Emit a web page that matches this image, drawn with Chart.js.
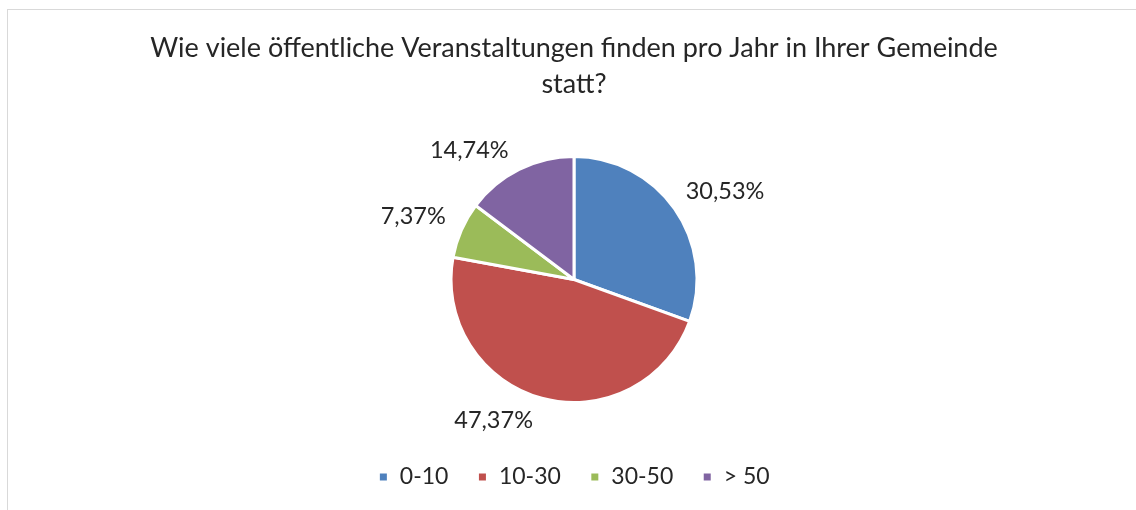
<!DOCTYPE html>
<html>
<head>
<meta charset="utf-8">
<script src="https://cdn.jsdelivr.net/npm/chart.js@4.4.1/dist/chart.umd.min.js"></script>
<style>
  html, body { margin: 0; padding: 0; background: #fff; overflow: hidden; }
  #frame {
    position: absolute; left: 7px; top: 9px;
    border-left: 1px solid #d9d9d9; border-top: 1px solid #d9d9d9;
    width: 1132px; height: 500px;
  }
  #chart { display: block; }
</style>
</head>
<body>
<div id="frame"><canvas id="chart" width="1132" height="500"></canvas></div>
<script>
// values
const categories = ['0-10', '10-30', '30-50', '> 50'];
const shares = [30.53, 47.37, 7.37, 14.74];
const sliceColors = ['#4f81bd', '#c0504d', '#9bbb59', '#8064a2'];
const titleLines = ['Wie viele öffentliche Veranstaltungen finden pro Jahr in Ihrer Gemeinde', 'statt?'];

const FONT = 'Lato';
const TEXT = '#262626';

// percentage labels outside each slice, like Excel's best fit
const outsideLabels = {
    id: 'outsideLabels',
    afterDatasetsDraw(chart, args, opts) {
        const ctx = chart.ctx;
        const meta = chart.getDatasetMeta(0);
        ctx.save();
        ctx.font = opts.size + 'px ' + FONT;
        ctx.fillStyle = TEXT;
        ctx.textAlign = 'center';
        ctx.textBaseline = 'middle';
        meta.data.forEach((arc, i) => {
            const p = arc.getProps(['x', 'y', 'startAngle', 'endAngle', 'outerRadius'], true);
            const mid = (p.startAngle + p.endAngle) / 2 + (opts.nudge[i] || 0) * Math.PI / 180;
            const text = shares[i].toFixed(2).replace('.', ',') + '%';
            const w = ctx.measureText(text).width;
            const h = opts.size * 1.2;
            const r = p.outerRadius + opts.gap;
            const cx = p.x + Math.cos(mid) * (r + w / 2);
            const cy = p.y + Math.sin(mid) * (r + h / 2);
            ctx.fillText(text, cx, cy);
        });
        ctx.restore();
    }
};

new Chart(document.getElementById('chart'), {
    type: 'pie',
    data: {
        labels: categories,
        datasets: [{
            data: shares,
            backgroundColor: sliceColors,
            borderColor: '#ffffff',
            borderWidth: 3,
            hoverOffset: 0,
            radius: 123
        }]
    },
    options: {
        responsive: false,
        animation: false,
        layout: { padding: { top: 0, bottom: 11.5, left: 0, right: 0 } },
        plugins: {
            title: {
                display: true,
                text: titleLines,
                color: TEXT,
                font: { family: FONT, size: 27, weight: 'normal', lineHeight: 1.333 },
                padding: { top: 20, bottom: 20.5 }
            },
            legend: {
                position: 'bottom',
                labels: {
                    color: TEXT,
                    font: { family: FONT, size: 23 },
                    boxWidth: 10,
                    boxHeight: 10,
                    padding: 29
                }
            },
            tooltip: { enabled: false },
            // angle nudges (degrees) mimic Excel's best-fit label placement
            outsideLabels: { size: 23.5, gap: 20, nudge: [1, 11, 0, -8.5] }
        }
    },
    plugins: [outsideLabels]
});
</script>
</body>
</html>
